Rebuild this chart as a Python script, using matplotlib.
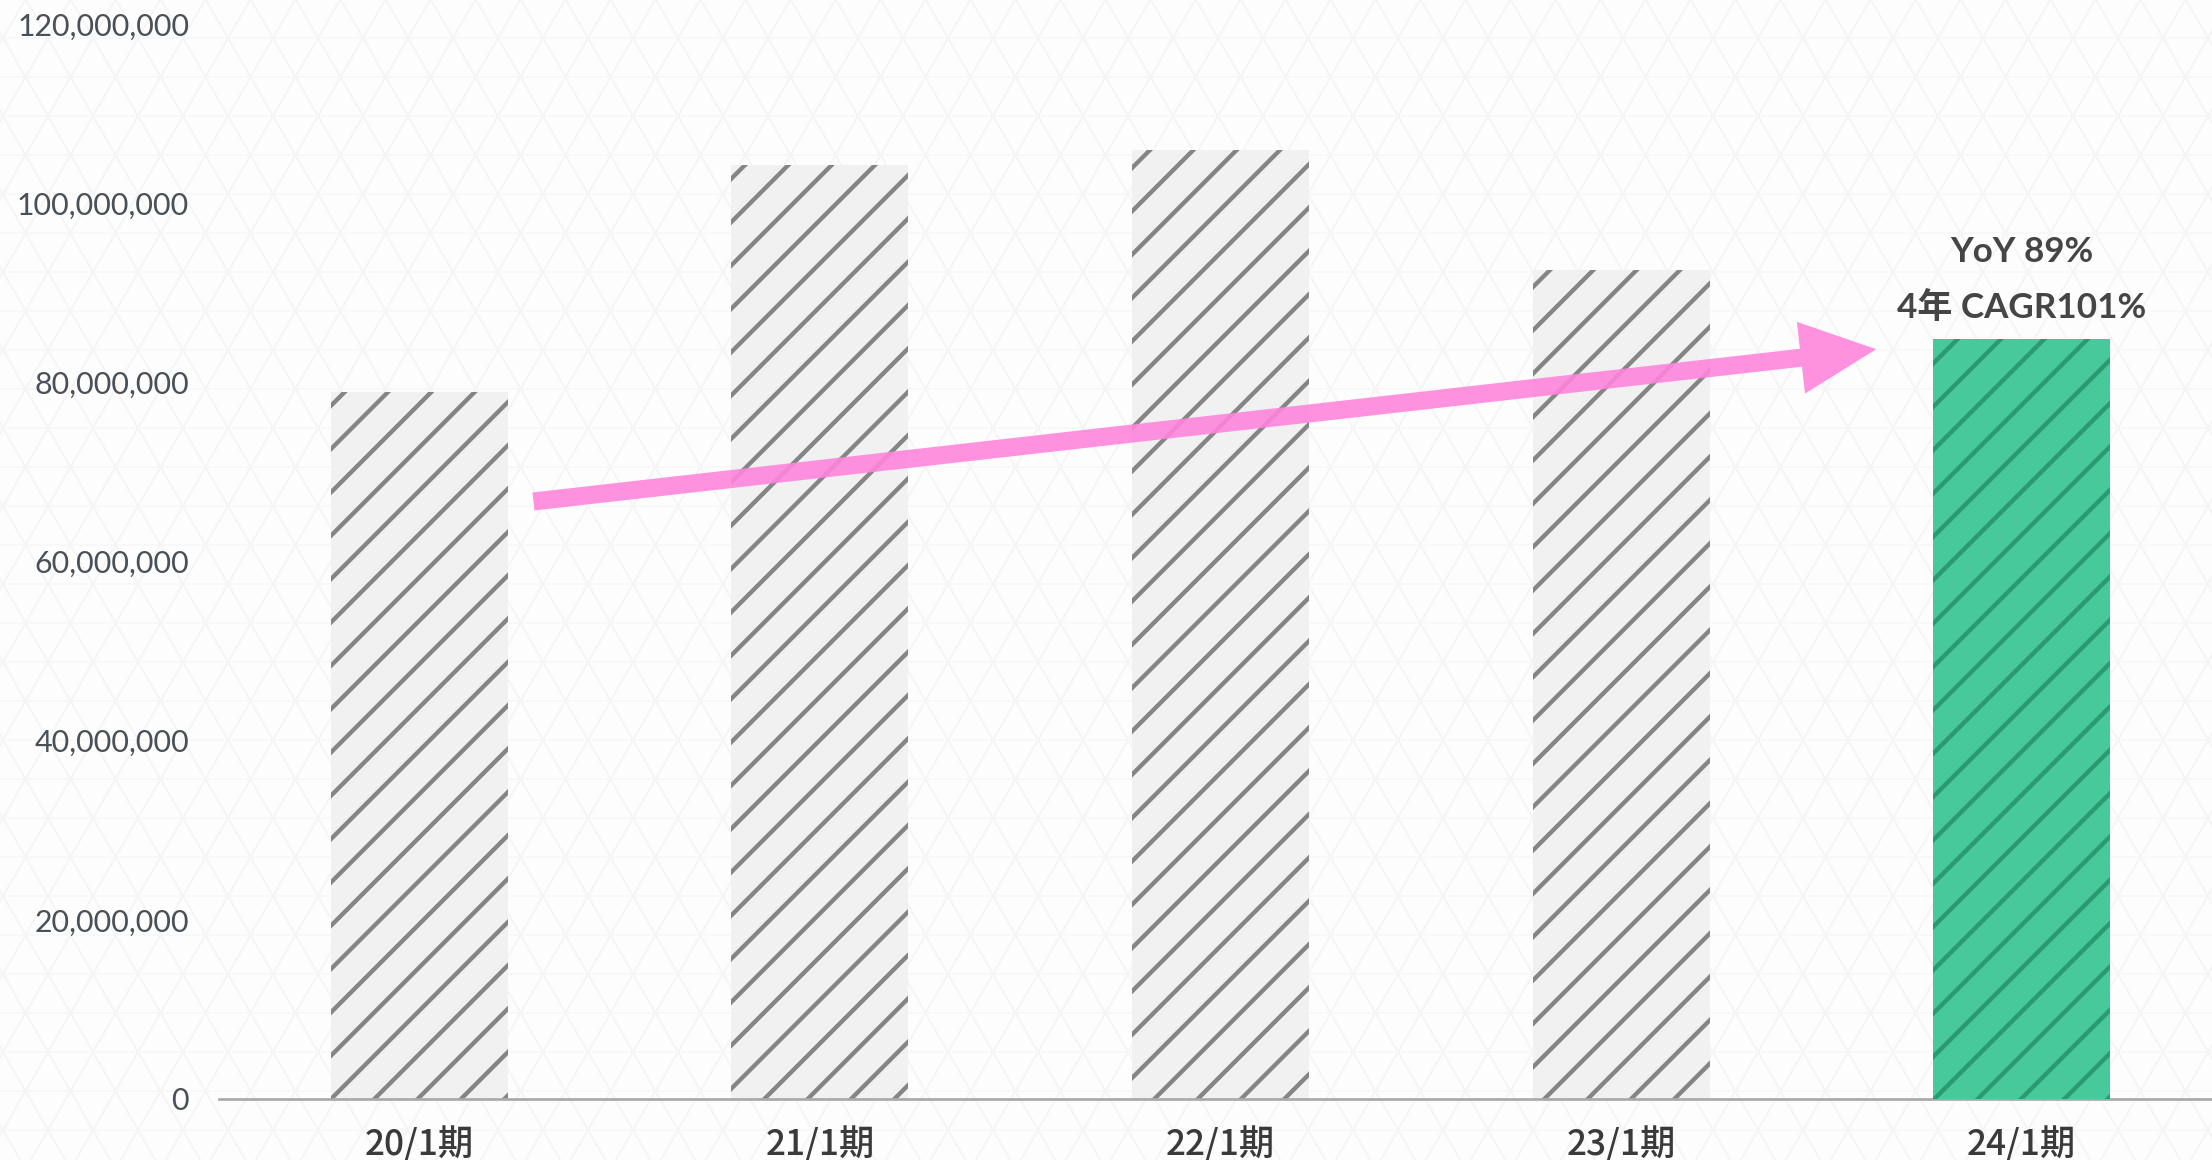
import numpy as np
from matplotlib import pyplot as plt
from matplotlib.lines import Line2D
from matplotlib.patches import FancyArrowPatch, ArrowStyle
from matplotlib.ticker import FuncFormatter

# values (yen)
periods = ["20/1期", "21/1期", "22/1期", "23/1期", "24/1期"]
revenue = [78.9e6, 104.3e6, 105.9e6, 92.5e6, 84.8e6]
yticks = [0, 20e6, 40e6, 60e6, 80e6, 100e6, 120e6]
notes = ["YoY 89%", "4年 CAGR101%"]
note_y = [94.5e6, 88.3e6]
trend_start = (0.285, 66.7e6)
trend_end = (3.637, 83.7e6)

W, H, DPI = 2212, 1160, 130
plt.rcParams['font.family'] = ['Lato', 'Noto Sans CJK JP', 'DejaVu Sans']
plt.rcParams['hatch.linewidth'] = 2.4

fig = plt.figure(figsize=(W / DPI, H / DPI), dpi=DPI)
fig.patch.set_facecolor('#fdfdfd')

# faint triangular lattice in the background
bg = fig.add_axes([0, 0, 1, 1], zorder=0)
bg.set_xlim(0, W)
bg.set_ylim(H, 0)
bg.axis('off')
side, rowh, x0, y0 = 45.0, 39.0, 543.0, 38.0
for m in range(-2, int(H / rowh) + 2):
    bg.add_line(Line2D([0, W], [y0 + m * rowh] * 2, color='#f8f8f8', lw=1.0))
ys = np.array([-50, H + 50])
for k in range(-40, int(W / side) + 40):
    for s in (1, -1):
        xs = x0 + k * side + s * (ys - y0) * (side / 2) / rowh
        bg.add_line(Line2D(xs, ys, color='#f5f5f5', lw=1.1))

ax = fig.add_axes([219 / W, 61 / H, 1 - 219 / W, (1099 - 24) / H], zorder=1)
ax.set_facecolor('none')

x = np.arange(len(periods))
fills = ['#f1f1f1'] * (len(periods) - 1) + ['#47c99b']
hatches = ['#858585'] * (len(periods) - 1) + ['#2b9a70']
bars = ax.bar(x, revenue, width=0.442, color=fills, edgecolor=hatches,
              hatch='/', linewidth=0, zorder=2)
bars[-1].set_zorder(3)

ax.set_xlim(-0.5, 4.475)
ax.set_ylim(0, 120e6)
ax.set_yticks(yticks)
ax.yaxis.set_major_formatter(FuncFormatter(lambda v, p: f"{int(v):,}"))
ax.set_xticks(x)
ax.set_xticklabels(periods, family=['Noto Sans CJK JP'], fontsize=19.5,
                   color='#3a3a3a', fontweight='medium')
ax.tick_params(axis='y', length=0, pad=16.5, labelsize=16.8, labelcolor='#4a5057')
ax.tick_params(axis='x', length=0, pad=15.5)
for side_name in ('left', 'right', 'top'):
    ax.spines[side_name].set_visible(False)
ax.spines['bottom'].set_color('#a9a9a9')
ax.spines['bottom'].set_linewidth(1.5)
ax.spines['bottom'].set_zorder(2.5)

arrow = FancyArrowPatch(trend_start, trend_end,
                        arrowstyle=ArrowStyle.Simple(head_length=42, head_width=40, tail_width=10),
                        mutation_scale=1, shrinkA=0, shrinkB=0,
                        color='#ff86dc', alpha=0.9, lw=0, zorder=4)
ax.add_patch(arrow)

for txt, yy in zip(notes, note_y):
    ax.text(x[-1], yy, txt, ha='center', va='center', fontsize=19.4,
            fontweight='bold', color='#454545', zorder=5)

fig.savefig('out.png', dpi=DPI, facecolor=fig.get_facecolor())
